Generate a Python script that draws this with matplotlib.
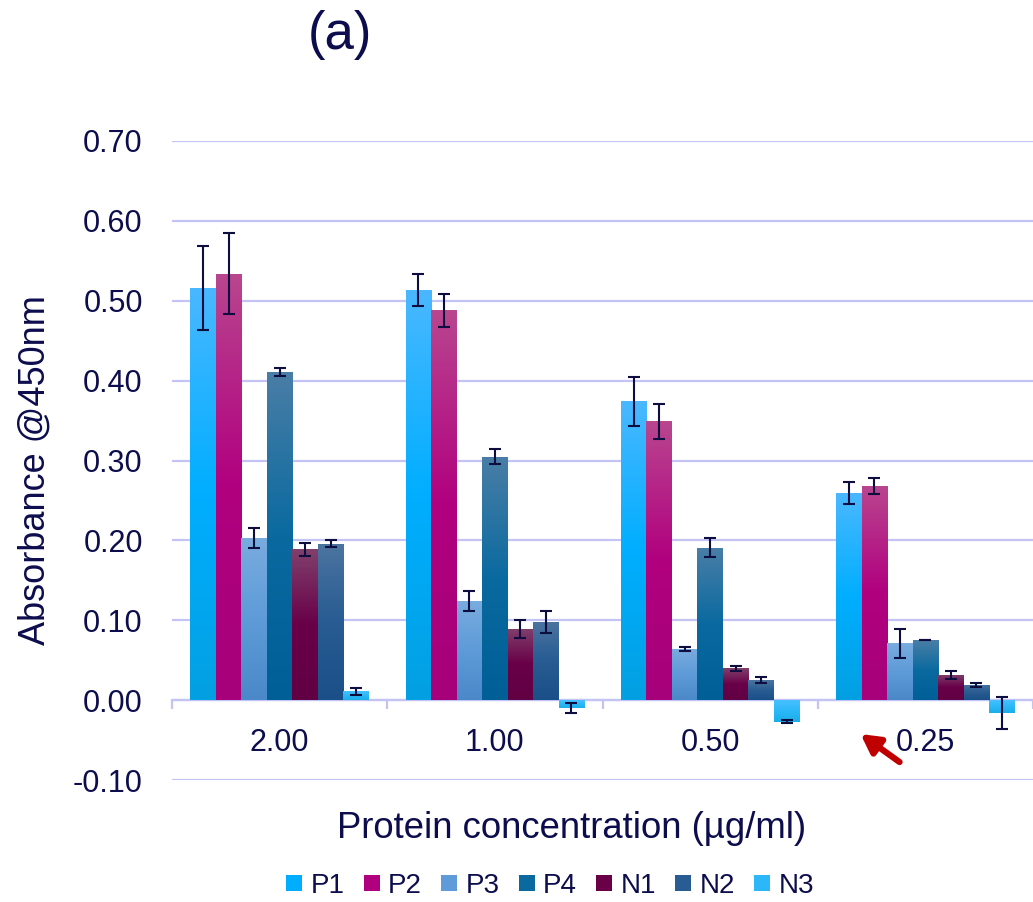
import numpy as np
import matplotlib
matplotlib.use("Agg")
import matplotlib.pyplot as plt
from matplotlib.colors import LinearSegmentedColormap
from matplotlib.lines import Line2D

plt.rcParams['font.family'] = ['Liberation Sans', 'DejaVu Sans']

categories = ["2.00", "1.00", "0.50", "0.25"]
series = ["P1", "P2", "P3", "P4", "N1", "N2", "N3"]

P1 = [0.516, 0.513, 0.374, 0.259]
P2 = [0.534, 0.488, 0.349, 0.268]
P3 = [0.203, 0.124, 0.064, 0.071]
P4 = [0.411, 0.305, 0.191, 0.075]
N1 = [0.189, 0.089, 0.040, 0.032]
N2 = [0.196, 0.098, 0.025, 0.019]
N3 = [0.011, -0.010, -0.027, -0.016]

P1_err = [0.052, 0.020, 0.031, 0.014]
P2_err = [0.051, 0.021, 0.022, 0.010]
P3_err = [0.012, 0.012, 0.003, 0.018]
P4_err = [0.005, 0.009, 0.012, 0.000]
N1_err = [0.008, 0.011, 0.003, 0.005]
N2_err = [0.004, 0.014, 0.004, 0.002]
N3_err = [0.004, 0.006, 0.002, 0.020]

values = [P1, P2, P3, P4, N1, N2, N3]
errors = [P1_err, P2_err, P3_err, P4_err, N1_err, N2_err, N3_err]

gradients = [
    ["#4AB8FF", "#00AEFF", "#03A0E2"],
    ["#B9468F", "#B1007F", "#A6007A"],
    ["#7AACDF", "#5E9BD8", "#4A88C9"],
    ["#4A7EA6", "#0A6AA0", "#005F96"],
    ["#80406C", "#690048", "#620044"],
    ["#4C74A0", "#285C92", "#1A4F88"],
    ["#48C0FF", "#2CB8F8", "#1AAEE8"],
]
solid = [g[1] for g in gradients]

text_color = "#0D0D4D"
grid_color = "#C4C4F4"

fig = plt.figure(figsize=(10.33, 9.02), dpi=100)
ax = fig.add_axes([172/1033, 1-780/902, 1-172/1033, (780-141)/902])

x = np.arange(len(categories))
w = 0.1185
grad = np.linspace(0, 1, 256).reshape(-1, 1)

for i, (vals, errs, g) in enumerate(zip(values, errors, gradients)):
    pos = x + (i - 3) * w
    bars = ax.bar(pos, vals, width=w, color=g[1], linewidth=0, zorder=2)
    cmap = LinearSegmentedColormap.from_list(series[i], g)
    for b in bars:
        x0, y0 = b.get_x(), b.get_y()
        bw, bh = b.get_width(), b.get_height()
        ylo, yhi = min(y0, y0 + bh), max(y0, y0 + bh)
        im = ax.imshow(grad, cmap=cmap, aspect='auto', origin='upper',
                       extent=(x0, x0 + bw, ylo, yhi), zorder=2.5)
        im.set_clip_path(b)
    ax.errorbar(pos, vals, yerr=errs, fmt='none', ecolor="#0D0D40",
                elinewidth=1.5, capsize=4.3, capthick=1.5, zorder=4)

ax.set_xlim(-0.5, 3.5)
ax.set_ylim(-0.10, 0.70)
ax.set_yticks(np.arange(-0.1, 0.701, 0.1))
ax.set_yticklabels([f"{v:.2f}" for v in np.arange(-0.1, 0.701, 0.1)])
ax.yaxis.grid(True, color=grid_color, linewidth=1.6, zorder=0)
ax.set_axisbelow(True)

for s in ['top', 'right', 'left']:
    ax.spines[s].set_visible(False)
ax.spines['bottom'].set_position(('data', 0))
ax.spines['bottom'].set_color(grid_color)
ax.spines['bottom'].set_linewidth(1.6)
ax.spines['bottom'].set_zorder(1)

ax.set_xticks(x)
ax.set_xticklabels(categories)
ax.set_xticks(np.arange(-0.5, 3.51, 1.0), minor=True)
ax.tick_params(axis='x', which='major', length=0, pad=20, labelsize=22, labelcolor=text_color)
ax.tick_params(axis='x', which='minor', length=6.5, width=1.6, color=grid_color, direction='out')
ax.tick_params(axis='y', length=0, pad=21, labelsize=22, labelcolor=text_color)

fig.text(340/1033, 1-35/902, "(a)", fontsize=38, color=text_color, ha='center', va='center')
fig.text(35/1033, 1-470/902, "Absorbance @450nm", fontsize=26, color=text_color,
         rotation=90, ha='center', va='center')
fig.text(572/1033, 1-828/902, "Protein concentration (µg/ml)", fontsize=26.3,
         color=text_color, ha='center', va='center')

handles = [Line2D([], [], marker='s', linestyle='none', markersize=11,
                  markerfacecolor=c, markeredgewidth=0) for c in solid]
fig.legend(handles, series, loc='center', bbox_to_anchor=(550/1033, 1-886/902),
           ncol=7, frameon=False, fontsize=20, handlelength=0.6,
           handletextpad=0.29, columnspacing=0.68, labelcolor=text_color,
           borderpad=0, borderaxespad=0)

# red arrow pointing at the 0.25 label
ax.annotate("", xy=(2.699, -0.0425), xytext=(2.88, -0.0775),
            arrowprops=dict(arrowstyle="-|>,head_length=1.1,head_width=0.6",
                            color="#C00000", lw=4.5, shrinkA=0, shrinkB=0),
            annotation_clip=False, zorder=5)

fig.savefig("out.png", dpi=100)
